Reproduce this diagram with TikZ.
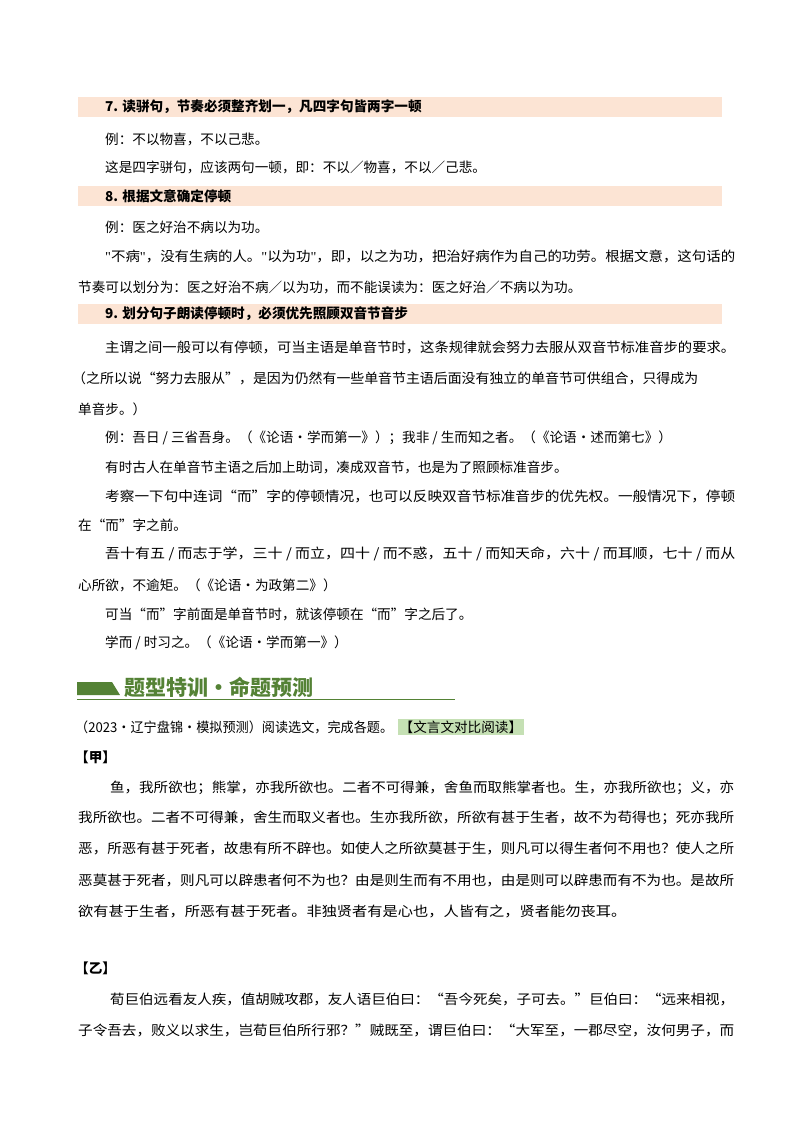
\documentclass[tikz,border=0pt]{standalone}
\usepackage{fontspec}
\usepackage{graphicx}
\setmainfont{Noto Sans CJK SC}
\newfontfamily\lat{Liberation Serif}
\definecolor{peach}{RGB}{252,228,212}
\definecolor{tgreen}{RGB}{84,130,53}
\definecolor{hlgreen}{RGB}{197,224,180}
\newcommand{\jl}[2]{\resizebox{#1}{\height}{#2}}
\newcommand{\sq}{{\lat"}}
\tikzset{ln/.style={anchor=west,inner sep=0pt,font=\fontsize{13.6}{16}\selectfont},
 hd/.style={ln,font=\fontsize{13.6}{16}\selectfont\bfseries},
 bar/.style={fill=peach,draw=none}}
\begin{document}
\begin{tikzpicture}[x=1pt,y=-1pt]
\useasboundingbox[fill=white] (0,0) rectangle (800,1132);
\fill[bar] (78,97) rectangle (722,117);
\node[hd] (h7) at (105,107) {7. 读骈句，节奏必须整齐划一，凡四字句皆两字一顿};
\node[ln] (a1) at (105,139) {例：不以物喜，不以己悲。};
\node[ln] (a2) at (105,167) {这是四字骈句，应该两句一顿，即：不以／物喜，不以／己悲。};
\fill[bar] (78,186) rectangle (722,206);
\node[hd] (h8) at (105,196) {8. 根据文意确定停顿};
\node[ln] (b1) at (105,227) {例：医之好治不病以为功。};
\node[ln] (b2) at (105,256) {\jl{630pt}{\sq 不病\sq ，没有生病的人。\sq 以为功\sq ，即，以之为功，把治好病作为自己的功劳。根据文意，这句话的}};
\node[ln] (b3) at (78,287) {节奏可以划分为：医之好治不病／以为功，而不能误读为：医之好治／不病以为功。};
\fill[bar] (78,304) rectangle (722,324);
\node[hd] (h9) at (105,314) {9. 划分句子朗读停顿时，必须优先照顾双音节音步};
\node[ln] (c1) at (105,347) {\jl{630pt}{主谓之间一般可以有停顿，可当主语是单音节时，这条规律就会努力去服从双音节标准音步的要求。}};
\node[ln] (c2) at (72,378) {\jl{626pt}{（之所以说“努力去服从”，是因为仍然有一些单音节主语后面没有独立的单音节可供组合，只得成为}};
\node[ln] (c3) at (78,409) {单音步。）};
\node[ln] (c4) at (105,438) {例：吾日 / 三省吾身。（《论语·学而第一》）；我非 / 生而知之者。（《论语·述而第七》）};
\node[ln] (c5) at (105,467) {有时古人在单音节主语之后加上助词，凑成双音节，也是为了照顾标准音步。};
\node[ln] (c6) at (105,496) {\jl{630pt}{考察一下句中连词“而”字的停顿情况，也可以反映双音节标准音步的优先权。一般情况下，停顿}};
\node[ln] (c7) at (78,525) {在“而”字之前。};
\node[ln] (c8) at (105,554) {\jl{630pt}{吾十有五 / 而志于学，三十 / 而立，四十 / 而不惑，五十 / 而知天命，六十 / 而耳顺，七十 / 而从}};
\node[ln] (c9) at (78,585) {心所欲，不逾矩。（《论语·为政第二》）};
\node[ln] (c10) at (105,614) {可当“而”字前面是单音节时，就该停顿在“而”字之后了。};
\node[ln] (c11) at (105,643) {学而 / 时习之。（《论语·学而第一》）};
\fill[tgreen] (77,682) -- (112,682) -- (120,695) -- (77,695) -- cycle;
\node[anchor=west,inner sep=0pt,text=tgreen,font=\fontsize{21}{24}\selectfont\bfseries] (tt) at (124,687) {题型特训·命题预测};
\draw[tgreen,line width=0.8pt] (77,699) -- (455,699);
\node[ln] (q) at (75,727) {\jl{318pt}{（2023·辽宁盘锦·模拟预测）阅读选文，完成各题。}};
\node[ln,fill=hlgreen,inner sep=1.5pt,anchor=west] (hl) at (398,727) {【文言文对比阅读】};
\node[hd] (jia) at (75,757) {【甲】};
\node[ln] (p1) at (110,788) {\jl{624pt}{鱼，我所欲也；熊掌，亦我所欲也。二者不可得兼，舍鱼而取熊掌者也。生，亦我所欲也；义，亦}};
\node[ln] (p2) at (78,818) {\jl{656pt}{我所欲也。二者不可得兼，舍生而取义者也。生亦我所欲，所欲有甚于生者，故不为苟得也；死亦我所}};
\node[ln] (p3) at (78,848) {\jl{656pt}{恶，所恶有甚于死者，故患有所不辟也。如使人之所欲莫甚于生，则凡可以得生者何不用也？使人之所}};
\node[ln] (p4) at (78,880) {\jl{656pt}{恶莫甚于死者，则凡可以辟患者何不为也？由是则生而有不用也，由是则可以辟患而有不为也。是故所}};
\node[ln] (p5) at (78,911) {\jl{548pt}{欲有甚于生者，所恶有甚于死者。非独贤者有是心也，人皆有之，贤者能勿丧耳。}};
\node[hd] (yi) at (75,968) {【乙】};
\node[ln] (r1) at (110,999) {\jl{624pt}{荀巨伯远看友人疾，值胡贼攻郡，友人语巨伯曰：“吾今死矣，子可去。”巨伯曰：“远来相视，}};
\node[ln] (r2) at (78,1030) {\jl{656pt}{子令吾去，败义以求生，岂荀巨伯所行邪？”贼既至，谓巨伯曰：“大军至，一郡尽空，汝何男子，而}};
\end{tikzpicture}
\end{document}
